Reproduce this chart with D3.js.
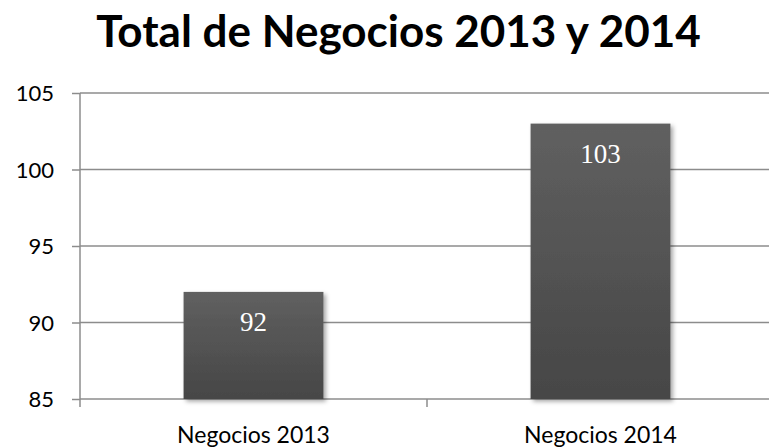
<!DOCTYPE html>
<html>
<head>
<meta charset="utf-8">
<script src="https://cdn.jsdelivr.net/npm/d3@7"></script>
<style>
  html, body { margin: 0; padding: 0; background: #fff; }
  svg { display: block; }
</style>
</head>
<body>
<svg id="chart" width="769" height="447"></svg>
<script>
// Chart data
const title = "Total de Negocios 2013 y 2014";
const categories = ["Negocios 2013", "Negocios 2014"];
const values = [92, 103];
const yTicks = [85, 90, 95, 100, 105];
const yDomain = [85, 105];

const W = 769, H = 447;
const margin = { left: 80, right: -5, top: 93, bottom: 48 };
const sansFont = "Lato, 'Open Sans', sans-serif";
const gridColor = "#8c8c8c";

const svg = d3.select("#chart");

// Defs: bar gradient and soft drop shadow
const defs = svg.append("defs");
const grad = defs.append("linearGradient")
  .attr("id", "barGrad").attr("x1", 0).attr("y1", 0).attr("x2", 0).attr("y2", 1);
grad.append("stop").attr("offset", "0%").attr("stop-color", "#606060");
grad.append("stop").attr("offset", "100%").attr("stop-color", "#464646");

const shadow = defs.append("filter").attr("id", "barShadow")
  .attr("x", "-10%").attr("y", "-10%").attr("width", "130%").attr("height", "130%");
shadow.append("feDropShadow")
  .attr("dx", 2.5).attr("dy", 2.5).attr("stdDeviation", 2)
  .attr("flood-color", "#000").attr("flood-opacity", 0.35);

const x = d3.scaleBand()
  .domain(categories)
  .range([margin.left, W - margin.right])
  .paddingInner(0.597)
  .paddingOuter(0.2985);

const y = d3.scaleLinear()
  .domain(yDomain)
  .range([H - margin.bottom, margin.top]);

// Horizontal gridlines
svg.append("g")
  .selectAll("line")
  .data(yTicks)
  .join("line")
  .attr("x1", margin.left)
  .attr("x2", W - margin.right)
  .attr("y1", d => y(d))
  .attr("y2", d => y(d))
  .attr("stroke", gridColor)
  .attr("stroke-width", 1.5);

// Y axis
const yAxis = svg.append("g")
  .attr("transform", `translate(${margin.left},0)`)
  .call(d3.axisLeft(y).tickValues(yTicks).tickSize(8).tickPadding(18).tickFormat(d3.format("d")));
yAxis.select(".domain")
  .attr("d", `M0,${y(yDomain[1])}V${y(yDomain[0]) + 8}`)
  .attr("stroke", gridColor).attr("stroke-width", 1.5);
yAxis.selectAll(".tick line").attr("stroke", gridColor).attr("stroke-width", 1.5);
yAxis.selectAll(".tick text")
  .attr("fill", "#000")
  .style("font-family", sansFont)
  .style("font-size", "22px")
  .attr("dy", "0.36em");

// X axis ticks sit on band boundaries
const step = x.step();
const boundaries = d3.range(categories.length + 1).map(i => x(categories[0]) - x.paddingOuter() * step + i * step);
svg.append("g")
  .selectAll("line")
  .data(boundaries.slice(1))
  .join("line")
  .attr("x1", d => d).attr("x2", d => d)
  .attr("y1", y(yDomain[0])).attr("y2", y(yDomain[0]) + 8)
  .attr("stroke", gridColor).attr("stroke-width", 1.5);

// Category labels
svg.append("g")
  .selectAll("text")
  .data(categories)
  .join("text")
  .attr("x", d => x(d) + x.bandwidth() / 2)
  .attr("y", 443)
  .attr("text-anchor", "middle")
  .style("font-family", sansFont)
  .style("font-size", "23px")
  .attr("fill", "#000")
  .text(d => d);

// Bars
svg.append("g")
  .selectAll("rect")
  .data(values)
  .join("rect")
  .attr("x", (d, i) => x(categories[i]))
  .attr("width", x.bandwidth())
  .attr("y", d => y(d))
  .attr("height", d => y(yDomain[0]) - y(d))
  .attr("fill", "url(#barGrad)")
  .attr("filter", "url(#barShadow)");

// Value labels inside bars
svg.append("g")
  .selectAll("text")
  .data(values)
  .join("text")
  .attr("x", (d, i) => x(categories[i]) + x.bandwidth() / 2)
  .attr("y", d => y(d) + 39)
  .attr("text-anchor", "middle")
  .style("font-family", "'Liberation Serif', 'Times New Roman', serif")
  .style("font-size", "27px")
  .attr("fill", "#fff")
  .text(d => d);

// Title
svg.append("text")
  .attr("x", W / 2 + 14)
  .attr("y", 47)
  .attr("text-anchor", "middle")
  .style("font-family", sansFont)
  .style("font-weight", "bold")
  .style("font-size", "44px")
  .attr("fill", "#000")
  .text(title);
</script>
</body>
</html>
